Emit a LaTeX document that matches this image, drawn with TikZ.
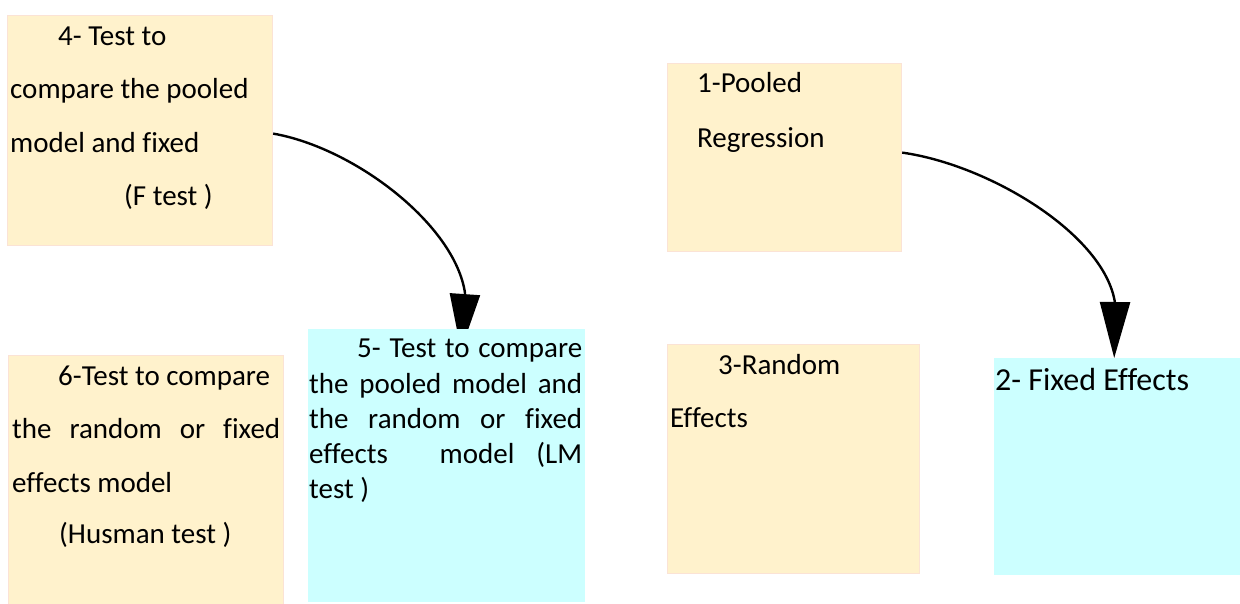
\documentclass[tikz,border=0pt]{standalone}
\usepackage{fontspec}
\setmainfont{Carlito}[Ligatures={NoCommon}]
\usetikzlibrary{arrows.meta}
\definecolor{beige}{HTML}{FFF2CC}
\definecolor{beigeline}{HTML}{FBE3D5}
\definecolor{lcyan}{HTML}{CCFFFF}
\begin{document}
\begin{tikzpicture}[x=1pt,y=-1pt,
  warmbox/.style={fill=beige,draw=beigeline,line width=1.2pt,anchor=north west,inner sep=0pt},
  coolbox/.style={fill=lcyan,draw=none,anchor=north west,inner sep=0pt},
  txt/.style={anchor=base west,inner sep=0pt,font=\fontsize{29}{34}\selectfont},
  link/.style={line width=2.4pt,-{Triangle[length=56pt,width=30pt]}}]
\useasboundingbox (0,0) rectangle (1240,603);
% boxes behind the arrows
\node[warmbox,minimum width=265pt,minimum height=230pt] (b4) at (7,15) {};
\node[warmbox,minimum width=234pt,minimum height=188pt] (b1) at (667,63) {};
\node[warmbox,minimum width=275pt,minimum height=250pt] (b6) at (8,355) {};
\node[warmbox,minimum width=252pt,minimum height=229pt] (b3) at (667,344) {};
\node[coolbox,minimum width=250pt,minimum height=217pt] (b2) at (994,358) {};
% arrows
\coordinate (a1base) at (465,293);
\coordinate (a1tip) at (461,350);
\draw[link] ([yshift=-3pt]b4.east) .. controls (355,148) and (455,225) .. (a1base) -- (a1tip);
\coordinate (a2base) at (1115,303);
\draw[link] ([yshift=5pt]b1.east) .. controls (990,165) and (1105,235) .. (a2base) -- ([xshift=-5pt]b2.north);
% box 5 drawn over the first arrow tip
\node[coolbox,minimum width=277pt,minimum height=273pt] (b5) at (308,329) {};
% texts
\node[txt] (t4a) at (58,45) {4- Test to};
\node[txt] (t4b) at (10,98) {compare the pooled};
\node[txt] (t4c) at (10,152) {model and fixed};
\node[txt] (t4d) at (124,205) {(F test )};
\node[txt] (t1a) at (697,92) {1-Pooled};
\node[txt] (t1b) at (697,147) {Regression};
\node[txt] (t6a) at (58,385) {6-Test to compare};
\node[txt] (t6b) at (12,438) {\makebox[268pt][s]{the random or fixed}};
\node[txt] (t6c) at (12,492) {effects model};
\node[txt] (t6d) at (59,543) {(Husman test )};
\node[txt] (t5a) at (357,357) {\makebox[225pt][s]{5- Test to compare}};
\node[txt] (t5b) at (309,393) {\makebox[273pt][s]{the pooled model and}};
\node[txt] (t5c) at (309,428) {\makebox[273pt][s]{the random or fixed}};
\node[txt] (t5d) at (309,463) {\makebox[273pt][s]{effects\hspace{30pt}\ model (LM}};
\node[txt] (t5e) at (309,498) {test )};
\node[txt] (t3a) at (718,374) {3-Random};
\node[txt] (t3b) at (670,427) {Effects};
\node[txt,font=\fontsize{32}{36}\selectfont] (t2a) at (995,390) {2- Fixed Effects};
\end{tikzpicture}
\end{document}
